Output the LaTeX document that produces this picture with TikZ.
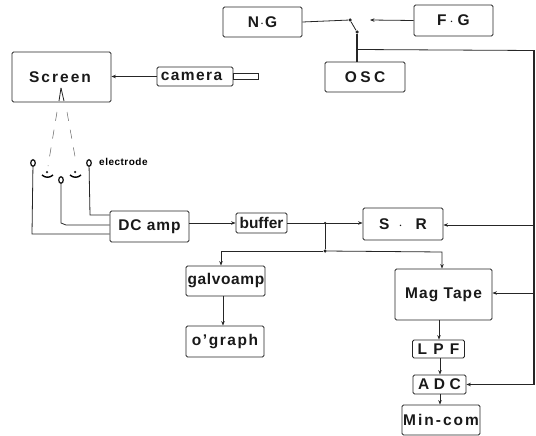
\documentclass[tikz,border=0pt]{standalone}
\usepackage{fontspec}
\setmainfont{Liberation Sans}[BoldFont=* Bold]
\usetikzlibrary{arrows.meta,shapes.geometric}
\newcommand{\lsp}[2]{{\addfontfeature{LetterSpace=#1}#2}}
\tikzset{
  x=1pt,y=-1pt,
  box/.style={draw=black!85,line width=0.8pt,rounded corners=1.5pt,inner sep=0pt,font=\bfseries\fontsize{15.5}{15.5}\selectfont,text=black!90},
  wire/.style={draw=black!85,line width=0.8pt},
  thick wire/.style={wire,line width=1.1pt},
  arr/.style={wire,-{Stealth[length=4.5pt,width=3.5pt]}},
  jdot/.style={circle,fill=black!85,inner sep=0pt,minimum size=3.5pt},
  elec/.style={draw=black!90,line width=1.3pt,ellipse,inner sep=0pt,minimum width=4.5pt,minimum height=6.5pt},
  dash wire/.style={draw=black!60,line width=0.5pt,dash pattern=on 9pt off 9pt},
}
\begin{document}
\begin{tikzpicture}
\useasboundingbox (0,0) rectangle (536,436);
% boxes
\node[box,minimum width=79pt,minimum height=30pt] (ng) at (262.5,22) {N\hspace{1pt}$\cdot$\hspace{1pt}G};
\node[box,minimum width=79pt,minimum height=31pt] (fg) at (453.5,20.5) {F\hspace{3pt}$\cdot$\hspace{4pt}G};
\node[box,minimum width=80pt,minimum height=30pt] (osc) at (365,77) {\lsp{22}{OSC}};
\node[box,minimum width=99pt,minimum height=50pt] (screen) at (61.5,77) {\hspace*{-3pt}\lsp{13}{Screen}};
\node[box,minimum width=76pt,minimum height=19pt] (camera) at (195,76.5) {\hspace*{-7pt}\lsp{9}{camera}};
\node[box,rounded corners=0pt,minimum width=25pt,minimum height=6pt] (lens) at (245.5,76) {};
\node[box,minimum width=79pt,minimum height=31pt] (dc) at (149.5,226.5) {\lsp{6}{DC amp}};
\node[box,minimum width=51pt,minimum height=20pt] (buffer) at (261.5,223) {buffer};
\node[box,minimum width=80pt,minimum height=32pt] (sr) at (403,224) {S\hspace{9pt}$\cdot$\hspace{13pt}R};
\node[box,minimum width=79pt,minimum height=30pt] (galvo) at (225.5,281) {\hspace*{1pt}\lsp{4}{galvoamp}};
\node[box,minimum width=78pt,minimum height=31pt] (ograph) at (225,341.5) {\lsp{10}{o'graph}};
\node[box,minimum width=97pt,minimum height=51pt] (mag) at (443.5,294.5) {\lsp{7}{Mag Tape}};
\node[box,minimum width=52pt,minimum height=18pt] (lpf) at (438.5,349) {\lsp{40}{LPF}};
\node[box,minimum width=53pt,minimum height=19pt] (adc) at (439.5,384.5) {\lsp{30}{ADC}};
\node[box,minimum width=78pt,minimum height=30pt] (min) at (441,420) {\lsp{13}{Min-com}};
% electrodes
\node[elec] (e1) at (33,163) {};
\node[elec] (e2) at (61,180) {};
\node[elec] (e3) at (89,163) {};
\node[inner sep=0pt,anchor=west,font=\bfseries\fontsize{10}{10}\selectfont] (elabel) at (99,162) {\lsp{5}{electrode}};
% eyes
\node[jdot,minimum size=2.5pt] (eye1) at (47,172) {};
\node[jdot,minimum size=2.5pt] (eye2) at (75,172) {};
\draw[line width=1.4pt] (42,175) .. controls (45,178) and (50,178) .. (53,175);
\draw[line width=1.4pt] (70,175) .. controls (73,178) and (78,178) .. (81,175);
% junctions and free ends
\node[jdot] (s1) at (350,20) {};
\node[jdot] (s2) at (357,32) {};
\coordinate (fgend) at (370,20);
\coordinate (oscj) at (357,49.5);
\coordinate (rtop) at (534,50.5);
\node[jdot,minimum size=2.5pt] (t1) at (325,223) {};
\node[jdot] (t2) at (325,251) {};
\coordinate (gturn) at (221,251);
\coordinate (mturn) at (442,252);
\coordinate (apex) at (61,88);
\coordinate (d1) at (57,112);
\coordinate (d2) at (67,112);
\coordinate (d1b) at (48,166);
\coordinate (d2b) at (76,162);
\coordinate (radc) at (534,384.5);
\coordinate (rsr) at (534,225);
\coordinate (rmag) at (534,293);
% connectors
\draw[wire] (ng.east) -- (s1);
\draw[wire] (s1) -- (s2);
\draw[thick wire] (s2) -- (osc.north -| s2);
\draw[arr] (fg.west) -- (fgend);
\draw[wire] (oscj) -- (rtop);
\draw[thick wire] (rtop) -- (radc);
\draw[arr] (radc) -- (adc.east);
\draw[arr] (rsr) -- (sr.east |- rsr);
\draw[arr] (rmag) -- (mag.east |- rmag);
\draw[arr] (camera.west) -- (screen.east |- camera.west);
\draw[wire] (apex) -- (59,101);
\draw[wire] (apex) -- (64,101);
\draw[dash wire] (d1) -- (d1b);
\draw[dash wire] (d2) -- (d2b);
\draw[wire] (e1) -- (32,234) -- (dc.west |- 0,234);
\draw[wire] (e2) -- (61,223) -- (66,225) -- (dc.west |- 0,225);
\draw[wire] (e3) -- (90,215) -- (dc.west |- 0,215);
\draw[arr] (dc.east |- buffer.west) -- (buffer.west);
\draw[arr] (buffer.east) -- (sr.west |- buffer.east);
\draw[wire] (t1) -- (t2);
\draw[arr] (t2) -- (gturn) -- (galvo.north -| gturn);
\draw[arr] (t2) -- (mturn) -- (mag.north -| mturn);
\draw[arr] (galvo.south -| 223,0) -- (ograph.north -| 223,0);
\draw[arr] (mag.south -| 439,0) -- (lpf.north -| 439,0);
\draw[arr] (lpf.south -| 440,0) -- (adc.north -| 440,0);
\draw[arr] (adc.south -| 440,0) -- (min.north -| 440,0);
\end{tikzpicture}
\end{document}
